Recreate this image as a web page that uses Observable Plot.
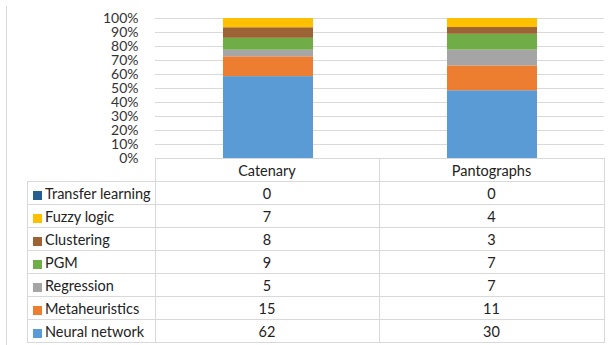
<!DOCTYPE html>
<html>
<head>
<meta charset="utf-8">
<script src="https://cdn.jsdelivr.net/npm/d3@7"></script>
<script src="https://cdn.jsdelivr.net/npm/@observablehq/plot@0.6"></script>
<style>
  html, body { margin: 0; padding: 0; background: #fff; }
  #wrap { position: relative; width: 612px; height: 345px; overflow: hidden; font-family: Lato, "Open Sans", sans-serif; }
  #frame { position: absolute; left: 6px; top: 6px; width: 1px; height: 345px; background: #D9D9D9; }
  #chart { position: absolute; left: 0; top: 0; }
  #table { position: absolute; left: 27px; top: 158px; border-collapse: collapse; font-size: 14.5px; color: #222; }
  #table td, #table th { border: 1px solid #D9D9D9; padding: 0; height: 22px; font-weight: normal; text-align: center; white-space: nowrap; }
  #table td.corner { border-top: none; border-left: none; }
  #table td.lab { text-align: left; }
  .key { display: inline-block; width: 9px; height: 9px; margin: 0 3px 0 5px; vertical-align: -1px; }
</style>
</head>
<body>
<div id="wrap">
  <div id="frame"></div>
  <div id="chart"></div>
  <table id="table"></table>
</div>
<script>
const categories = ["Catenary", "Pantographs"];
const methods = ["Neural network", "Metaheuristics", "Regression", "PGM", "Clustering", "Fuzzy logic", "Transfer learning"];
const catenary = [62, 15, 5, 9, 8, 7, 0];
const pantographs = [30, 11, 7, 7, 3, 4, 0];
const colors = ["#5B9BD5", "#ED7D31", "#A5A5A5", "#70AD47", "#9C6434", "#FFC000", "#255E91"];
const yTicks = [0, 0.1, 0.2, 0.3, 0.4, 0.5, 0.6, 0.7, 0.8, 0.9, 1];

const series = [catenary, pantographs];
const data = methods.flatMap((m, i) => categories.map((c, j) => ({cat: c, method: m, value: series[j][i]})));

const chart = Plot.plot({
  width: 612,
  height: 170,
  marginLeft: 155,
  marginRight: 8,
  marginTop: 18,
  marginBottom: 12,
  style: {fontFamily: "Lato, 'Open Sans', sans-serif", fontSize: "14px", color: "#333", background: "transparent", overflow: "visible"},
  x: {domain: categories, paddingInner: 0.6, paddingOuter: 0.3, axis: null},
  y: {domain: [0, 1], axis: null},
  color: {domain: methods, range: colors},
  marks: [
    Plot.gridY(yTicks, {stroke: "#D9D9D9", strokeOpacity: 1}),
    Plot.axisY(yTicks, {tickFormat: d3.format(".0%"), tickSize: 0, tickPadding: 17, label: null, fill: "#333"}),
    Plot.barY(data, Plot.stackY({offset: "normalize", x: "cat", y: "value", fill: "method"}))
  ]
});
document.getElementById("chart").appendChild(chart);

// data table
const table = document.getElementById("table");
const head = document.createElement("tr");
const corner = document.createElement("td");
corner.className = "corner";
corner.style.width = "127px";
head.appendChild(corner);
categories.forEach((c, j) => {
  const th = document.createElement("th");
  th.textContent = c;
  th.style.width = j === 0 ? "223px" : "224px";
  head.appendChild(th);
});
table.appendChild(head);
for (let i = methods.length - 1; i >= 0; i--) {
  const tr = document.createElement("tr");
  const lab = document.createElement("td");
  lab.className = "lab";
  const key = document.createElement("span");
  key.className = "key";
  key.style.background = colors[i];
  lab.appendChild(key);
  lab.appendChild(document.createTextNode(methods[i]));
  tr.appendChild(lab);
  series.forEach(s => {
    const td = document.createElement("td");
    td.textContent = s[i];
    tr.appendChild(td);
  });
  table.appendChild(tr);
}
</script>
</body>
</html>
